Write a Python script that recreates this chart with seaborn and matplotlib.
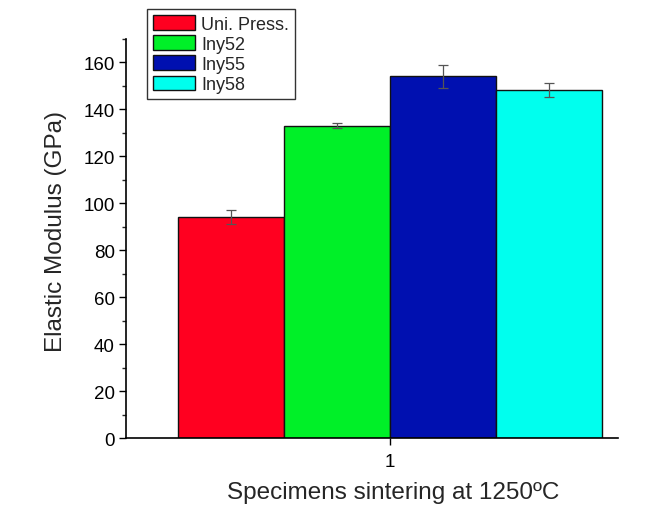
import matplotlib
matplotlib.use("Agg")
import matplotlib.pyplot as plt
import seaborn as sns
import pandas as pd
import numpy as np
from matplotlib.ticker import MultipleLocator

groups = ["1", "1", "1", "1"]
series = ["Uni. Press.", "Iny52", "Iny55", "Iny58"]
values = [94, 133, 154, 148]
errors = [3, 1, 5, 3]
colors = ["#FF0020", "#00F028", "#0010B0", "#00FFEE"]

sns.set_style("ticks")
plt.rcParams["font.family"] = ["Liberation Sans", "DejaVu Sans"]

df = pd.DataFrame({"group": groups, "series": series, "value": values})

fig = plt.figure(figsize=(6.62, 5.06), dpi=100)
ax = fig.add_axes([0.190, 0.1324, 0.7435, 0.789])

sns.barplot(data=df, x="group", y="value", hue="series", hue_order=series,
            palette=colors, errorbar=None, width=0.8, saturation=1,
            edgecolor="#111111", linewidth=1.0, ax=ax)

# error bars at bar centers
bars = [p for p in ax.patches if p.get_height() > 0][:len(series)]
bars = sorted(bars, key=lambda p: p.get_x())
for p, e in zip(bars, errors):
    ax.errorbar(p.get_x() + p.get_width() / 2, p.get_height(), yerr=e,
                fmt="none", ecolor="#555555", elinewidth=0.9, capsize=3.5,
                capthick=0.9, zorder=5)

ax.set_ylim(0, 170)
ax.set_xlim(-0.498, 0.43)
ax.yaxis.set_major_locator(MultipleLocator(20))
ax.yaxis.set_minor_locator(MultipleLocator(10))
ax.tick_params(axis="both", which="major", direction="out", length=5,
               width=1, labelsize=13.5, colors="black", pad=3)
ax.tick_params(axis="x", which="major", pad=6)
ax.tick_params(axis="y", which="minor", direction="out", length=3, width=1)
for s in ["top", "right"]:
    ax.spines[s].set_visible(False)
for s in ["left", "bottom"]:
    ax.spines[s].set_linewidth(1.2)
    ax.spines[s].set_color("black")

ax.set_ylabel("Elastic Modulus (GPa)", fontsize=17.5, labelpad=12)
ax.yaxis.label.set_y(0.52)
ax.set_xlabel("Specimens sintering at 1250ºC", fontsize=17.5, labelpad=8)
ax.xaxis.label.set_x(0.543)

leg = ax.legend(loc="upper left", bbox_to_anchor=(0.043, 1.075), frameon=True,
                fancybox=False, edgecolor="black", fontsize=13,
                handlelength=2.3, handleheight=0.85, borderpad=0.35,
                labelspacing=0.15, handletextpad=0.35, borderaxespad=0,
                title=None)
leg.get_frame().set_linewidth(1.0)

fig.savefig("out.png", dpi=100)
